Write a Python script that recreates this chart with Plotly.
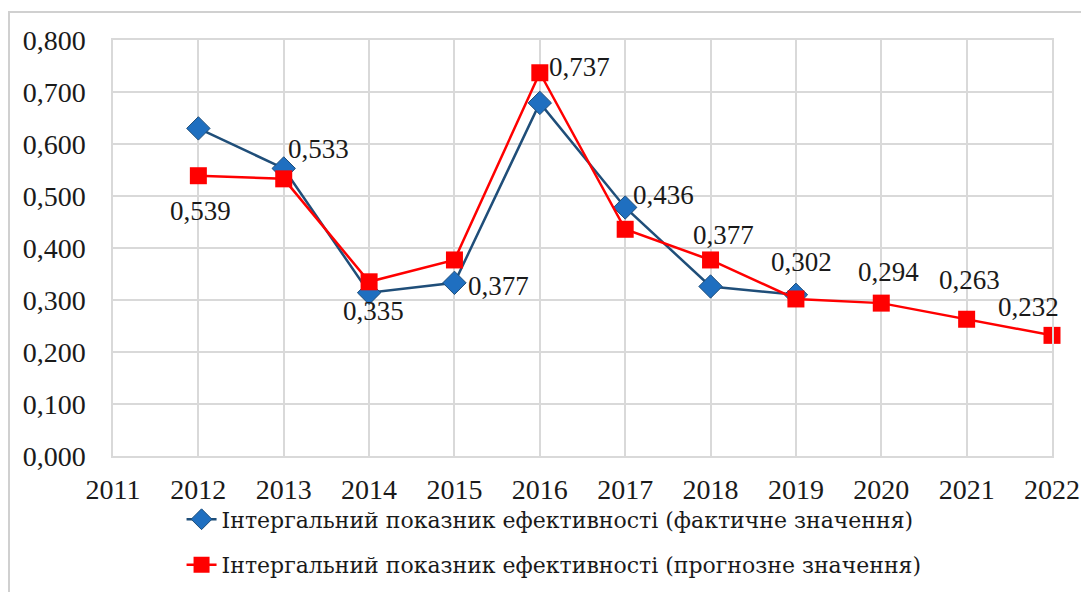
import plotly.graph_objects as go

years = [2012, 2013, 2014, 2015, 2016, 2017, 2018, 2019, 2020, 2021, 2022]
actual_years = [2012, 2013, 2014, 2015, 2016, 2017, 2018, 2019]
actual = [0.630, 0.553, 0.314, 0.333, 0.679, 0.478, 0.326, 0.310]
forecast = [0.539, 0.533, 0.335, 0.377, 0.737, 0.436, 0.377, 0.302, 0.294, 0.263, 0.232]
name_actual = "Інтергальний показник ефективності (фактичне значення)"
name_forecast = "Інтергальний показник ефективності (прогнозне значення)"
x_ticks = list(range(2011, 2023))
y_ticks = [0.0, 0.1, 0.2, 0.3, 0.4, 0.5, 0.6, 0.7, 0.8]

# label offsets in pixels (style only)
label_dx = [2, 35, 4, 44, 40, 38, 13, 6, 7, 3, -24]
label_dy = [-35, 30, -29, -26, 6, 34, 25, 37, 31, 39, 28]

FONT = "Liberation Serif"
LEG_FONT = "DejaVu Serif"
labels = [f"{v:.3f}".replace(".", ",") for v in forecast]

fig = go.Figure()
fig.add_trace(go.Scatter(
    x=actual_years, y=actual, mode="lines+markers", name=name_actual,
    legendgroup="a", cliponaxis=False,
    line=dict(color="#1F4E79", width=2.5),
    marker=dict(symbol="diamond", size=18, color="#1F6FC0", line=dict(color="#1F4E79", width=1)),
))
fig.add_trace(go.Scatter(
    x=years, y=forecast, mode="lines+markers", name=name_forecast,
    legendgroup="b", cliponaxis=False,
    line=dict(color="#FF0000", width=2.5),
    marker=dict(symbol="square", size=17, color="#FF0000"),
))
for xv, yv, t, dx, dy in zip(years, forecast, labels, label_dx, label_dy):
    fig.add_annotation(x=xv, y=yv, text=t, showarrow=False, xanchor="center", yanchor="middle",
                       xshift=dx, yshift=dy, font=dict(family=FONT, size=27, color="#1a1a1a"))

fig.update_layout(
    width=1081, height=592,
    margin=dict(l=113, r=29, t=40, b=136, autoexpand=False),
    paper_bgcolor="white", plot_bgcolor="white",
    font=dict(family=FONT, size=27, color="#1a1a1a"),
    separators=", ",
    showlegend=True,
    legend=dict(orientation="v", x=0.073, xanchor="left", y=-0.102, yanchor="top",
                font=dict(family=LEG_FONT, size=22, color="#1a1a1a"),
                tracegroupgap=14, bgcolor="rgba(0,0,0,0)"),
    shapes=[dict(type="rect", xref="paper", yref="paper",
                 x0=(9 - 113) / 939, x1=(1090 - 113) / 939,
                 y0=(456 - 600) / 416, y1=(456 - 12) / 416,
                 line=dict(color="#D0D0D0", width=2), layer="below")],
)
fig.update_xaxes(range=[2011, 2022], tickvals=x_ticks, ticktext=[str(t) for t in x_ticks],
                 showgrid=True, gridcolor="#D9D9D9", gridwidth=1.5,
                 showline=True, linecolor="#D9D9D9", linewidth=1.5, mirror=True,
                 zeroline=False, ticks="", tickfont=dict(size=28), automargin=False,
                 ticklabelstandoff=8)
fig.update_yaxes(range=[0, 0.8], tickvals=y_ticks, tickformat=".3f",
                 showgrid=True, gridcolor="#D9D9D9", gridwidth=1.5,
                 showline=True, linecolor="#D9D9D9", linewidth=1.5, mirror=True,
                 zeroline=False, ticks="", tickfont=dict(size=28), automargin=False,
                 ticklabelstandoff=20)

fig.write_html("out.html", config={"displayModeBar": False},
               post_script="document.body.style.margin='0';")
